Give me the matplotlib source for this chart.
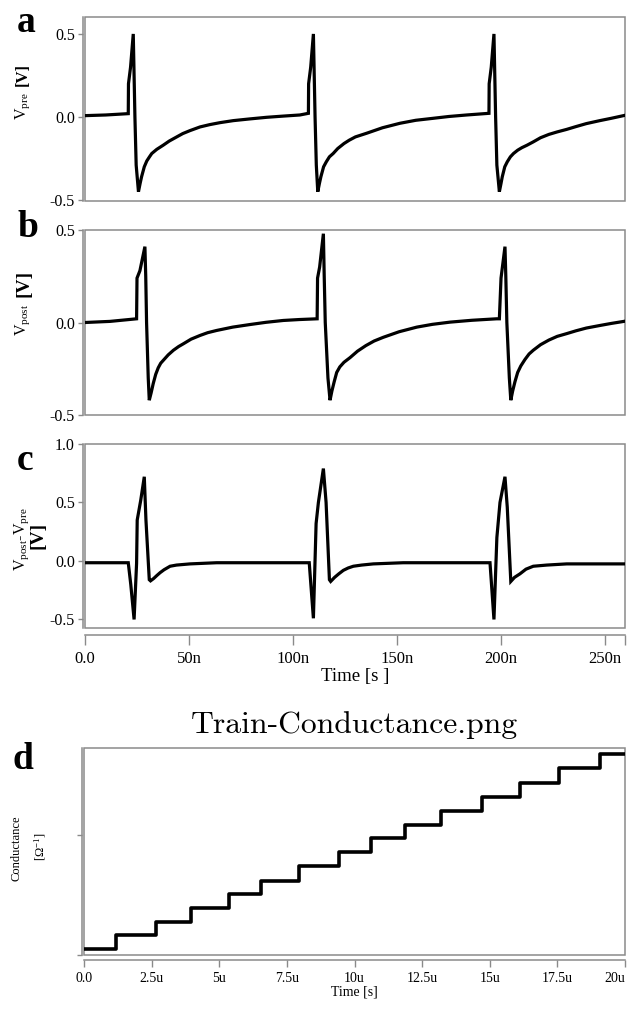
import matplotlib
matplotlib.use("Agg")
import matplotlib.pyplot as plt
from matplotlib.patches import Rectangle
from matplotlib.ticker import FixedLocator

plt.rcParams['font.family'] = ['Liberation Serif', 'DejaVu Serif']
plt.rcParams['mathtext.fontset'] = 'custom'
plt.rcParams['mathtext.rm'] = 'Liberation Serif'
plt.rcParams['mathtext.it'] = 'Liberation Serif:italic'
plt.rcParams['mathtext.bf'] = 'Liberation Serif:bold'
plt.rcParams['axes.unicode_minus'] = False

# ---- (a) presynaptic voltage: time [ns], value [V]
t_pre = [0.0, 10.0, 20.8, 20.9, 21.9, 23.2, 24.0, 24.6, 25.7,
         26.5, 27.2, 28.5, 29.7, 31.0, 32.1, 34.5, 37.6, 40.5, 44.1, 47.0, 50.5,
         55.3, 60.0, 65.0, 71.3, 79.0, 87.3, 95.0, 103.3, 107.4,
         107.5, 108.5, 109.8, 110.6, 111.2, 111.9,
         112.7, 113.4, 114.7, 116.0, 117.5, 119.3, 121.5, 124.5, 127.0, 130.0,
         135.4, 143.0, 151.4, 159.0, 167.4, 175.0, 183.5, 194.2,
         194.3, 195.3, 196.6, 197.4, 198.0, 199.2,
         200.0, 200.6, 201.8, 203.0, 204.5, 206.0, 208.0, 210.0, 212.5, 215.5,
         219.0, 223.0, 227.0, 231.5, 236.0, 241.0, 247.5, 253.0, 259.6]
v_pre = [0.008, 0.012, 0.020, 0.20, 0.30, 0.50, 0.00, -0.29, -0.45,
         -0.40, -0.36, -0.30, -0.265, -0.24, -0.22, -0.195, -0.17, -0.145, -0.12, -0.10, -0.082,
         -0.06, -0.046, -0.034, -0.022, -0.012, -0.002, 0.005, 0.012, 0.022,
         0.20, 0.30, 0.50, 0.00, -0.29, -0.45,
         -0.40, -0.36, -0.30, -0.27, -0.24, -0.22, -0.19, -0.16, -0.14, -0.12,
         -0.098, -0.065, -0.038, -0.02, -0.008, 0.003, 0.012, 0.022,
         0.20, 0.30, 0.50, 0.00, -0.29, -0.45,
         -0.40, -0.36, -0.30, -0.27, -0.24, -0.22, -0.20, -0.185, -0.17, -0.15,
         -0.125, -0.105, -0.09, -0.075, -0.058, -0.04, -0.022, -0.008, 0.010]

# ---- (b) postsynaptic voltage
t_post = [0.0, 12.0, 24.8, 25.0, 26.4, 28.8, 29.2, 29.6, 30.4, 30.9,
          31.8, 32.8, 34.0, 35.2, 36.4, 37.6, 40.0, 42.5, 45.0, 47.3, 51.0, 55.3,
          59.0, 63.3, 71.0, 79.3, 87.0, 95.3, 103.0, 111.6,
          111.8, 112.8, 114.6, 115.0, 115.5, 116.8, 117.8,
          118.7, 119.8, 121.0, 122.5, 124.5, 127.4, 131.0, 135.0, 139.0, 143.4,
          151.0, 159.5, 167.0, 175.5, 186.0, 197.9,
          199.2, 200.0, 201.9, 202.3, 202.8, 204.0, 204.7,
          205.6, 206.7, 208.0, 209.5, 211.5, 213.5, 215.5, 219.0, 223.0, 227.0,
          231.6, 236.0, 241.0, 247.6, 253.0, 259.6]
v_post = [0.0, 0.006, 0.020, 0.24, 0.28, 0.41, 0.25, 0.00, -0.30, -0.42,
          -0.38, -0.33, -0.28, -0.245, -0.22, -0.205, -0.175, -0.15, -0.13, -0.115, -0.09, -0.07,
          -0.055, -0.043, -0.025, -0.011, 0.001, 0.011, 0.016, 0.020,
          0.24, 0.30, 0.48, 0.25, 0.00, -0.30, -0.42,
          -0.37, -0.32, -0.27, -0.24, -0.215, -0.19, -0.155, -0.125, -0.10, -0.08,
          -0.05, -0.025, -0.01, 0.002, 0.012, 0.020,
          0.020, 0.24, 0.41, 0.25, 0.00, -0.30, -0.42,
          -0.37, -0.32, -0.27, -0.235, -0.20, -0.17, -0.15, -0.12, -0.095, -0.075,
          -0.06, -0.045, -0.03, -0.016, -0.005, 0.007]

# ---- (c) difference Vpost - Vpre
t_diff = [0.0, 20.8, 22.0, 23.6, 24.8, 25.1, 26.8, 28.5, 29.3, 30.9, 31.5,
          33.0, 34.5, 36.1, 38.0, 40.9, 44.0, 50.5, 63.3, 107.8,
          109.8, 111.1, 112.2, 114.6, 115.9, 117.5, 118.1,
          120.0, 122.0, 124.2, 126.5, 129.0, 133.0, 138.6, 153.0, 194.7,
          196.6, 198.0, 199.5, 201.9, 203.0, 204.7,
          206.5, 209.1, 212.0, 215.5, 222.0, 231.6, 259.6]
v_diff = [-0.015, -0.015, -0.20, -0.50, -0.02, 0.35, 0.52, 0.72, 0.35, -0.16, -0.17,
          -0.15, -0.125, -0.10, -0.075, -0.045, -0.035, -0.025, -0.015, -0.015,
          -0.49, 0.32, 0.50, 0.79, 0.50, -0.16, -0.175,
          -0.14, -0.11, -0.08, -0.06, -0.045, -0.035, -0.025, -0.015, -0.015,
          -0.50, 0.20, 0.50, 0.72, 0.46, -0.175,
          -0.14, -0.11, -0.07, -0.045, -0.035, -0.025, -0.025]

# ---- (d) conductance staircase: switching times [us] and levels (a.u.)
t_step = [0.0, 1.2, 2.65, 3.96, 5.37, 6.56, 7.94, 9.41, 10.6, 11.85, 13.2,
          14.7, 16.1, 17.55, 19.06, 19.95]
g_level = [0.028, 0.095, 0.161, 0.229, 0.293, 0.359, 0.430, 0.496, 0.564,
           0.628, 0.697, 0.765, 0.832, 0.902, 0.971, 0.971]

x_ticks_ns = [0, 50, 100, 150, 200, 250]
x_tick_labels_ns = ['0.0', '50n', '100n', '150n', '200n', '250n']
x_ticks_us = [0, 2.5, 5, 7.5, 10, 12.5, 15, 17.5, 20]
x_tick_labels_us = ['0.0', '2.5u', '5u', '7.5u', '10u', '12.5u', '15u', '17.5u', '20u']

W, H = 628, 1009
fig = plt.figure(figsize=(W / 100, H / 100), dpi=100)

GRAY = '#8a8a8a'


def box(left, top, right, bottom):
    return [left / W, 1 - bottom / H, (right - left) / W, (bottom - top) / H]


def frame(ax, xaxis=False, xoff=5):
    for s in ('top', 'right'):
        ax.spines[s].set_visible(False)
    ax.spines['left'].set_position(('outward', 1.8))
    ax.spines['left'].set_color(GRAY)
    ax.spines['left'].set_linewidth(1.1)
    if xaxis:
        ax.spines['bottom'].set_position(('outward', xoff))
        ax.spines['bottom'].set_color(GRAY)
        ax.spines['bottom'].set_linewidth(1.1)
    else:
        ax.spines['bottom'].set_visible(False)
        ax.set_xticks([])
    ax.add_patch(Rectangle((0, 0), 1, 1, transform=ax.transAxes, fill=False,
                           edgecolor=GRAY, lw=1.1, clip_on=False, zorder=0))
    ax.tick_params(axis='y', direction='out', length=3.5, width=1, color=GRAY,
                   labelsize=11.5, pad=2)
    ax.set_facecolor('white')


LW = 2.3
XMAX = 259.6

# (a)
axa = fig.add_axes(box(85, 17, 625, 201))
axa.plot(t_pre, v_pre, color='black', lw=LW, solid_joinstyle='miter')
axa.set_xlim(0, XMAX)
axa.set_ylim(-0.506, 0.602)
axa.set_yticks([-0.5, 0.0, 0.5])
axa.set_yticklabels(['-0.5', '0.0', '0.5'])
frame(axa)

# (b)
axb = fig.add_axes(box(85, 230, 625, 415))
axb.plot(t_post, v_post, color='black', lw=LW, solid_joinstyle='miter')
axb.set_xlim(0, XMAX)
axb.set_ylim(-0.5, 0.5)
axb.set_yticks([-0.5, 0.0, 0.5])
axb.set_yticklabels(['-0.5', '0.0', '0.5'])
frame(axb)

# (c)
axc = fig.add_axes(box(85, 444, 625, 628))
axc.plot(t_diff, v_diff, color='black', lw=LW, solid_joinstyle='miter')
axc.set_xlim(0, XMAX)
axc.set_ylim(-0.573, 1.0)
axc.set_yticks([-0.5, 0.0, 0.5, 1.0])
axc.set_yticklabels(['-0.5', '0.0', '0.5', '1.0'])
frame(axc, xaxis=True, xoff=5)
axc.set_xticks(x_ticks_ns)
axc.set_xticklabels(x_tick_labels_ns)
axc.xaxis.set_minor_locator(FixedLocator([XMAX]))
axc.tick_params(axis='x', which='both', direction='out', length=7.5, width=1,
                color=GRAY, labelsize=12, pad=4)
axc.set_xlabel('Time [s ]', fontsize=13.5, labelpad=1)

# (d)
axd = fig.add_axes(box(84, 748, 625, 955))
axd.step(t_step, g_level, where='post', color='black', lw=2.6)
axd.set_xlim(0, 20)
axd.set_ylim(0, 1)
axd.set_yticks([0.0, 0.58])
axd.set_yticklabels([])
frame(axd, xaxis=True, xoff=3.5)
axd.set_xticks(x_ticks_us)
axd.set_xticklabels(x_tick_labels_us)
axd.tick_params(axis='x', direction='out', length=5, width=1, color=GRAY,
                labelsize=10, pad=4)
last = axd.get_xticklabels()[-1]
last.set_horizontalalignment('right')
axd.set_xlabel('Time [s]', fontsize=10, labelpad=0)

# panel letters
for letter, x, y in [('a', 17, 32), ('b', 17, 237), ('c', 17, 470), ('d', 13, 769)]:
    fig.text(x / W, 1 - y / H, letter, fontsize=27, fontweight='bold',
             ha='left', va='baseline')

# y labels
def vtext(x, y, s, **kw):
    fig.text(x / W, 1 - y / H, s, rotation=90, ha='center', va='center', **kw)

vtext(23, 106, r'V$_{\mathrm{pre}}$', fontsize=11.5)
vtext(23, 75, '[V]', fontsize=12, fontweight='bold')
vtext(23, 320, r'V$_{\mathrm{post}}$', fontsize=11.5)
vtext(24, 283, '[V]', fontsize=14, fontweight='bold')
vtext(22, 539, r'V$_{\mathrm{post}}$-V$_{\mathrm{pre}}$', fontsize=11.5)
vtext(38, 535, '[V]', fontsize=14, fontweight='bold')
vtext(17, 848, 'Conductance', fontsize=9)
vtext(40, 847, r'[$\Omega^{\mathrm{-1}}$]', fontsize=9)

# file title between the panels
fig.text(354 / W, 1 - 733 / H, 'Train-Conductance.png', fontsize=22.8,
         family='cmr10', ha='center', va='baseline')

fig.savefig('out.png', dpi=100, facecolor='white')
